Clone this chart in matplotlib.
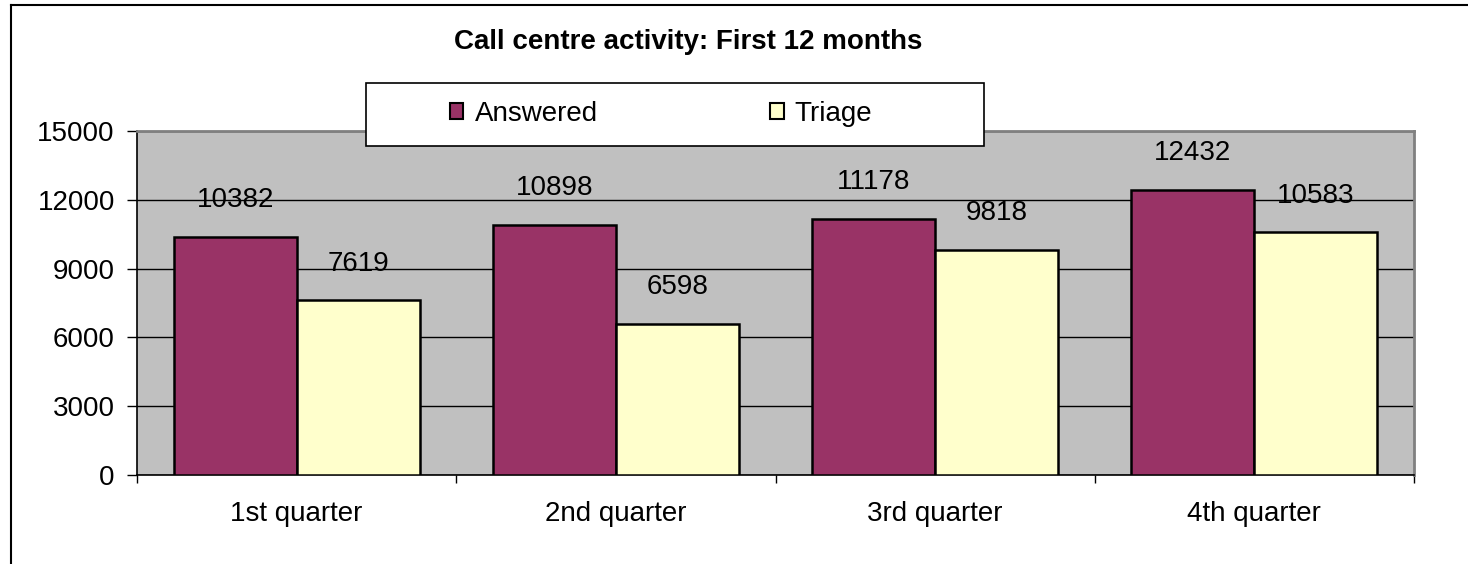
import matplotlib.pyplot as plt
import numpy as np
from matplotlib.lines import Line2D
from matplotlib.patches import Patch, Rectangle

plt.rcParams["font.family"] = "Liberation Sans"
plt.rcParams["font.size"] = 20

quarters = ["1st quarter", "2nd quarter", "3rd quarter", "4th quarter"]
answered = [10382, 10898, 11178, 12432]
triage = [7619, 6598, 9818, 10583]
series_names = ["Answered", "Triage"]
colors = ["#993366", "#FFFFCC"]

W, H = 1468, 564
fig = plt.figure(figsize=(W / 100, H / 100), dpi=100)
ax = fig.add_axes([137 / W, 1 - 475 / H, (1414 - 137) / W, (475 - 131) / H])

x = np.arange(len(quarters))
w = 0.385
b1 = ax.bar(x - w / 2, answered, w, color=colors[0], edgecolor="black", linewidth=1.8, zorder=3)
b2 = ax.bar(x + w / 2, triage, w, color=colors[1], edgecolor="black", linewidth=1.8, zorder=3)

for bars, vals in ((b1, answered), (b2, triage)):
    for rect, v in zip(bars, vals):
        ax.annotate(str(v), (rect.get_x() + rect.get_width() / 2, v),
                    xytext=(0, 17), textcoords="offset points",
                    ha="center", va="bottom", fontsize=20, zorder=4)

ax.set_facecolor("#C0C0C0")
ax.set_xlim(-0.5, 3.5)
ax.set_ylim(0, 15000)
ax.set_yticks(np.arange(0, 15001, 3000))
ax.yaxis.grid(True, color="black", linewidth=1, zorder=1)
ax.set_axisbelow(True)

ax.set_xticks(x)
ax.set_xticklabels(quarters)
ax.set_xticks(np.arange(-0.5, 3.6, 1), minor=True)
ax.tick_params(axis="x", which="major", length=0, pad=19)
ax.tick_params(axis="x", which="minor", length=6, width=1, color="black")
ax.tick_params(axis="y", length=7, width=1, pad=9)

for side in ("top", "right"):
    ax.spines[side].set_color("#808080")
    ax.spines[side].set_linewidth(2)
for side in ("left", "bottom"):
    ax.spines[side].set_color("black")
    ax.spines[side].set_linewidth(1.2)

fig.text(688 / W, 1 - 42 / H, "Call centre activity: First 12 months",
         ha="center", va="center", fontsize=20, fontweight="bold")

# legend box
fig.add_artist(Rectangle((366 / W, 1 - 146 / H), 618 / W, 63 / H,
                         transform=fig.transFigure, facecolor="white",
                         edgecolor="black", linewidth=1.2, zorder=9))
handles = [Patch(facecolor=c, edgecolor="black", linewidth=1.5) for c in colors]
leg = fig.legend(handles, series_names, loc="center", ncol=2,
                 bbox_to_anchor=(661 / W, 1 - 114 / H), frameon=False,
                 handlelength=0.5, handleheight=0.5, handletextpad=0.4,
                 columnspacing=6.2, borderpad=0.2, fontsize=20)
leg.set_zorder(10)

# outer chart frame (only left and top visible)
fig.add_artist(Line2D([11 / W, 11 / W], [0, 1 - 5 / H], color="black", linewidth=1.5, transform=fig.transFigure))
fig.add_artist(Line2D([11 / W, 1], [1 - 5 / H, 1 - 5 / H], color="black", linewidth=1.5, transform=fig.transFigure))

fig.savefig("out.png", dpi=100)
